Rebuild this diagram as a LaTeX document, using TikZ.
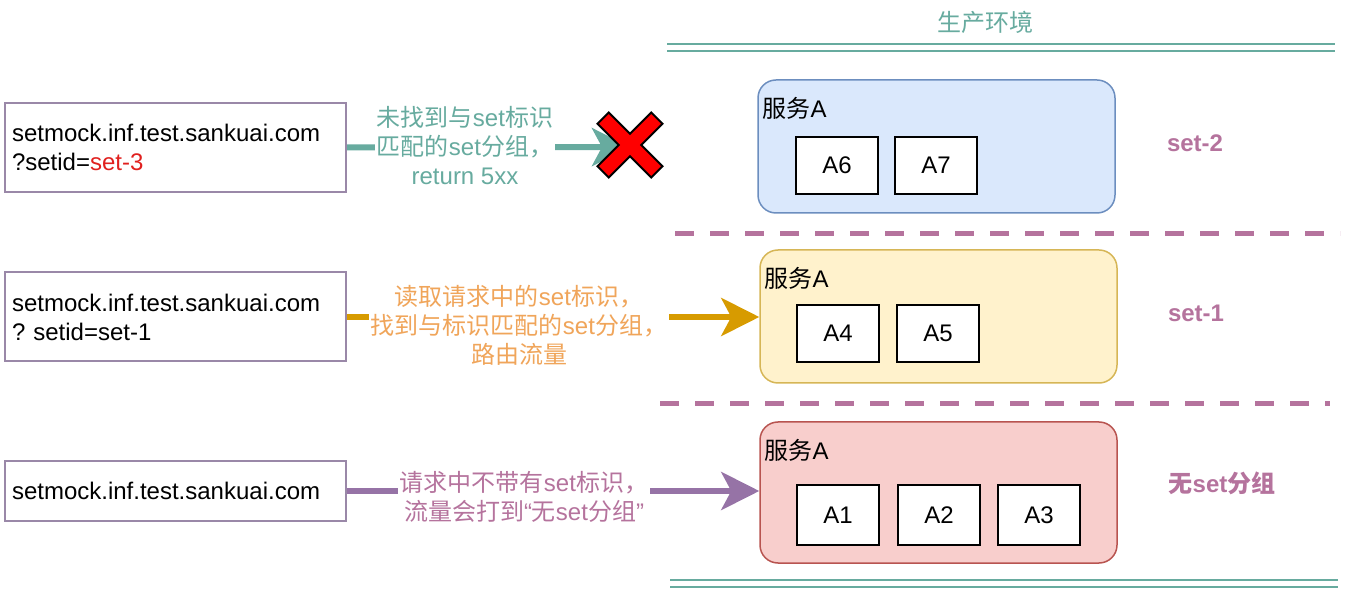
\documentclass[tikz,border=0pt]{standalone}
\usepackage{fontspec}
\setmainfont{Liberation Sans}
\newfontfamily\cjk{Noto Sans CJK SC}
\newcommand{\zh}[1]{{\cjk #1}}
\usetikzlibrary{calc,arrows.meta,positioning}
\definecolor{envgreen}{HTML}{67AB9F}
\definecolor{setpurple}{HTML}{B5739D}
\definecolor{reqline}{HTML}{9A88A8}
\definecolor{flowgold}{HTML}{D79B00}
\definecolor{flowtext}{HTML}{F0A55A}
\definecolor{flowpurple}{HTML}{9673A6}
\definecolor{badred}{HTML}{E0201E}
\tikzset{
  req/.style={draw=reqline, line width=1pt, minimum width=170.5pt, minimum height=44.5pt,
              text width=163.5pt, align=left, inner sep=3.5pt, font=\fontsize{12}{14.5}\selectfont},
  svc/.style={rounded corners=9pt, line width=0.75pt, minimum width=178.5pt, minimum height=66.5pt},
  inst/.style={draw, line width=1pt, fill=white, minimum width=41pt, minimum height=28.5pt,
               font=\fontsize{12}{14.5}\selectfont},
  svclbl/.style={anchor=west, inner sep=0pt, font=\fontsize{12}{14.5}\selectfont},
  flow/.style={line width=3pt, -{Stealth[length=19pt,width=19pt,inset=5pt]}},
  flowlbl/.style={fill=white, align=center, inner sep=1pt, font=\fontsize{12}{14.5}\selectfont},
  setlbl/.style={text=setpurple, font=\fontsize{12}{14.5}\selectfont\bfseries},
  envline/.style={draw=envgreen, line width=1pt, double=white, double distance=2.5pt},
  setline/.style={draw=setpurple, line width=2.5pt, dash pattern=on 9.5pt off 8pt}
}
\begin{document}
\begin{tikzpicture}[x=0.5pt, y=-0.5pt]
  \useasboundingbox (0,0) rectangle (1348,592);
  % 生产环境
  \node[text=envgreen, font=\fontsize{12}{14.5}\selectfont] (env) at (985,22) {\zh{生产环境}};
  \draw[envline] (667,47.5) -- (1335,47.5);
  \draw[envline] (670,583.5) -- (1338,583.5);
  % set 分隔线
  \draw[setline] (675,234) -- (1340,234);
  \draw[setline] (660,404) -- (1330,404);

  % 请求
  \node[req] (req3) at (175.5,147.5) {setmock.inf.test.sankuai.com\\?setid=\textcolor{badred}{set-3}};
  \node[req] (req1) at (175.5,317) {setmock.inf.test.sankuai.com\\?\ setid=set-1};
  \node[req, minimum height=30pt] (req0) at (175.5,491) {setmock.inf.test.sankuai.com};

  % 服务分组
  \node[svc, draw={rgb,255:red,108;green,142;blue,191}, fill={rgb,255:red,218;green,232;blue,252}] (grp2) at (936.5,146.5) {};
  \node[svc, draw={rgb,255:red,214;green,182;blue,86}, fill={rgb,255:red,255;green,242;blue,204}] (grp1) at (938.5,316.5) {};
  \node[svc, minimum height=70.5pt, draw={rgb,255:red,184;green,84;blue,80}, fill={rgb,255:red,248;green,206;blue,204}] (grp0) at (938.5,492.5) {};
  \foreach \g in {2,1,0}
    \node[svclbl] (lbl\g) at ($(grp\g.north west)+(5,29)$) {\zh{服务}A};
  % 实例
  \foreach \n/\x/\y in {6/837/165.5, 7/936/165.5, 4/838/333.5, 5/938/333.5}
    \node[inst] (A\n) at (\x,\y) {A\n};
  \foreach \n/\x in {1/838, 2/939, 3/1039}
    \node[inst, minimum height=30pt] (A\n) at (\x,515) {A\n};

  \node[setlbl] (set2) at (1195,143) {set-2};
  \node[setlbl] (set1) at (1196,313) {set-1};
  \node[setlbl] (set0) at (1222,483) {\zh{无}set\zh{分组}};

  % 流量
  \coordinate (stop) at (630,147);
  \draw[flow, envgreen] (req3.east) -- (stop);
  \node[flowlbl, text=envgreen] (why3) at (465,146)
    {\zh{未找到与}set\zh{标识}\\\zh{匹配的}set\zh{分组，}\\return 5xx};
  \begin{scope}[shift={(630,145)}, rotate=45]
    \draw[fill=red, line width=1pt, line join=miter]
      (8,8) -- (38,8) -- (38,-8) -- (8,-8) -- (8,-38) -- (-8,-38) -- (-8,-8)
      -- (-38,-8) -- (-38,8) -- (-8,8) -- (-8,38) -- (8,38) -- cycle;
  \end{scope}

  \draw[flow, flowgold] (req1.east) -- (req1.east -| grp1.west);
  \node[flowlbl, text=flowtext] (why1) at (519,325)
    {\zh{读取请求中的}set\zh{标识，}\\\zh{找到与标识匹配的}set\zh{分组，}\\\zh{路由流量}};

  \draw[flow, flowpurple] (req0.east) -- (req0.east -| grp0.west);
  \node[flowlbl, text=setpurple] (why0) at (524,497)
    {\zh{请求中不带有}set\zh{标识，}\\\zh{流量会打到}“\zh{无}set\zh{分组}”};
\end{tikzpicture}
\end{document}
